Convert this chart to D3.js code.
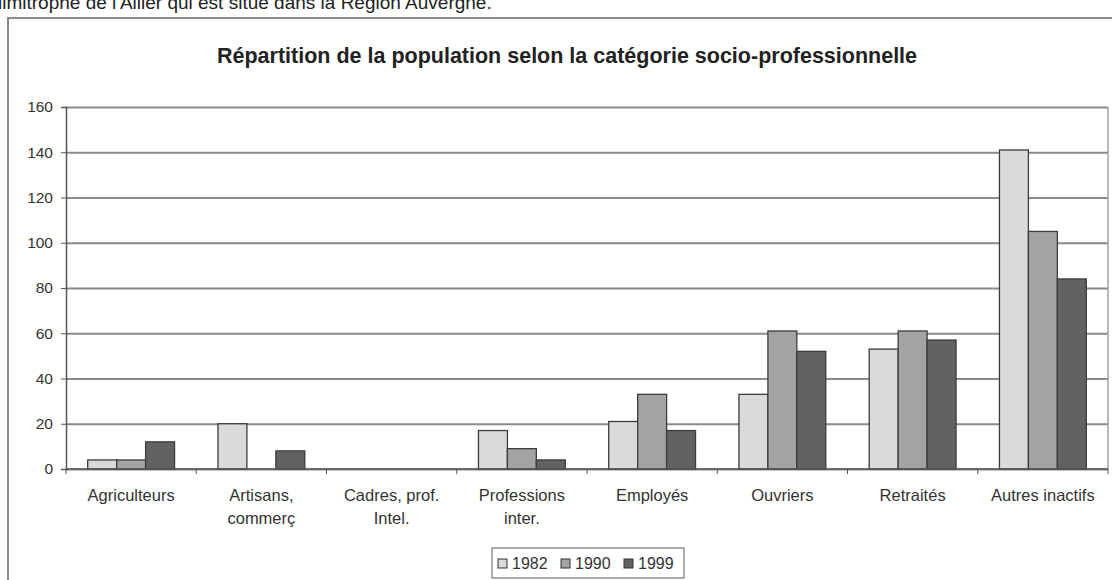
<!DOCTYPE html>
<html>
<head>
<meta charset="utf-8">
<script src="https://cdn.jsdelivr.net/npm/d3@7"></script>
<style>
  html, body { margin: 0; padding: 0; background: #fff; }
  svg { display: block; font-family: "Liberation Sans", Arial, sans-serif; }
</style>
</head>
<body>
<div id="chart"></div>
<script>
// Data
const categories = ['Agriculteurs', 'Artisans,\ncommerç', 'Cadres, prof.\nIntel.', 'Professions\ninter.', 'Employés', 'Ouvriers', 'Retraités', 'Autres inactifs'];
const years = ['1982', '1990', '1999'];
const values1982 = [4, 20, 0, 17, 21, 33, 53, 141];
const values1990 = [4, 0, 0, 9, 33, 61, 61, 105];
const values1999 = [12, 8, 0, 4, 17, 52, 57, 84];
const yTicks = [0, 20, 40, 60, 80, 100, 120, 140, 160];

const seriesValues = [values1982, values1990, values1999];
const colors = ['#dadada', '#a3a3a3', '#626262'];

const width = 1112;
const height = 580;
const plot = { left: 66, right: 1108, top: 107, bottom: 469 };

const svg = d3.select('#chart')
  .append('svg')
  .attr('width', width)
  .attr('height', height);

// Caption line of the page, cut by the top edge as in the scan
svg.append('text')
  .attr('x', -2)
  .attr('y', 9)
  .attr('font-size', 19)
  .attr('fill', '#222')
  .text("limitrophe de l'Allier qui est situé dans la Région Auvergne.");

// Outer chart frame
svg.append('rect')
  .attr('x', 8)
  .attr('y', 18)
  .attr('width', 1110)
  .attr('height', 580)
  .attr('fill', 'none')
  .attr('stroke', '#8a8a8a')
  .attr('stroke-width', 2);

// Title
svg.append('text')
  .attr('x', 567)
  .attr('y', 63)
  .attr('text-anchor', 'middle')
  .attr('font-size', 21.5)
  .attr('font-weight', 'bold')
  .attr('fill', '#222')
  .text('Répartition de la population selon la catégorie socio-professionnelle');

// Scales
const x0 = d3.scaleBand()
  .domain(categories)
  .range([plot.left, plot.right])
  .padding(0);

const x1 = d3.scaleBand()
  .domain(years)
  .range([0, x0.bandwidth()])
  .paddingInner(0)
  .paddingOuter(0.75);

const y = d3.scaleLinear()
  .domain([0, 160])
  .range([plot.bottom, plot.top]);

// Gridlines
svg.append('g')
  .attr('class', 'gridlines')
  .attr('transform', `translate(${plot.left},0)`)
  .call(d3.axisLeft(y).tickValues(yTicks).tickFormat('').tickSize(-(plot.right - plot.left)))
  .call(g => g.select('.domain').remove())
  .call(g => g.selectAll('line').attr('stroke', '#8a8a8a').attr('stroke-width', 1.8));

// Right border of plot area
svg.append('line')
  .attr('x1', plot.right).attr('x2', plot.right)
  .attr('y1', plot.top).attr('y2', plot.bottom)
  .attr('stroke', '#a0a0a0')
  .attr('stroke-width', 1.5);

// Bars
const rows = categories.map((c, i) => ({
  category: c,
  values: years.map((yr, j) => ({ year: yr, value: seriesValues[j][i], color: colors[j] })),
}));

const groups = svg.append('g')
  .selectAll('g')
  .data(rows)
  .join('g')
  .attr('transform', d => `translate(${x0(d.category)},0)`);

groups.selectAll('rect')
  .data(d => d.values.filter(v => v.value > 0))
  .join('rect')
  .attr('x', d => x1(d.year))
  .attr('y', d => y(d.value))
  .attr('width', x1.bandwidth())
  .attr('height', d => y(0) - y(d.value))
  .attr('fill', d => d.color)
  .attr('stroke', '#3c3c3c')
  .attr('stroke-width', 1.3);

// Y axis
svg.append('g')
  .attr('transform', `translate(${plot.left},0)`)
  .call(d3.axisLeft(y).tickValues(yTicks).tickSize(5).tickPadding(8))
  .call(g => g.select('.domain').attr('stroke', '#555').attr('stroke-width', 1.5))
  .call(g => g.selectAll('line').attr('stroke', '#555'))
  .call(g => g.selectAll('text').attr('font-size', 15.5).attr('fill', '#333')
    .attr('font-family', '"Liberation Sans", Arial, sans-serif'));

// X axis
const xAxis = svg.append('g')
  .attr('transform', `translate(0,${plot.bottom})`);

xAxis.append('line')
  .attr('x1', plot.left).attr('x2', plot.right)
  .attr('stroke', '#555')
  .attr('stroke-width', 1.5);

const boundaries = categories.map(c => x0(c)).concat([plot.right]);
xAxis.selectAll('line.tick')
  .data(boundaries)
  .join('line')
  .attr('class', 'tick')
  .attr('x1', d => d).attr('x2', d => d)
  .attr('y1', 0).attr('y2', 5)
  .attr('stroke', '#555');

xAxis.selectAll('text')
  .data(categories)
  .join('text')
  .attr('x', d => x0(d) + x0.bandwidth() / 2)
  .attr('y', 32)
  .attr('text-anchor', 'middle')
  .attr('font-size', 16.5)
  .attr('fill', '#333')
  .each(function (d) {
    d.split('\n').forEach((line, i) => {
      d3.select(this).append('tspan')
        .attr('x', x0(d) + x0.bandwidth() / 2)
        .attr('dy', i === 0 ? 0 : 23)
        .text(line);
    });
  });

// Legend
const legend = svg.append('g').attr('transform', 'translate(492,548)');
legend.append('rect')
  .attr('width', 192)
  .attr('height', 30)
  .attr('fill', '#fff')
  .attr('stroke', '#777')
  .attr('stroke-width', 1.2);

const legendItems = legend.selectAll('g')
  .data(years)
  .join('g')
  .attr('transform', (d, i) => `translate(${6 + i * 63},0)`);

legendItems.append('rect')
  .attr('x', 0)
  .attr('y', 11)
  .attr('width', 9)
  .attr('height', 9)
  .attr('fill', (d, i) => colors[i])
  .attr('stroke', '#333');

legendItems.append('text')
  .attr('x', 14)
  .attr('y', 21)
  .attr('font-size', 16)
  .attr('fill', '#333')
  .text(d => d);
</script>
</body>
</html>
